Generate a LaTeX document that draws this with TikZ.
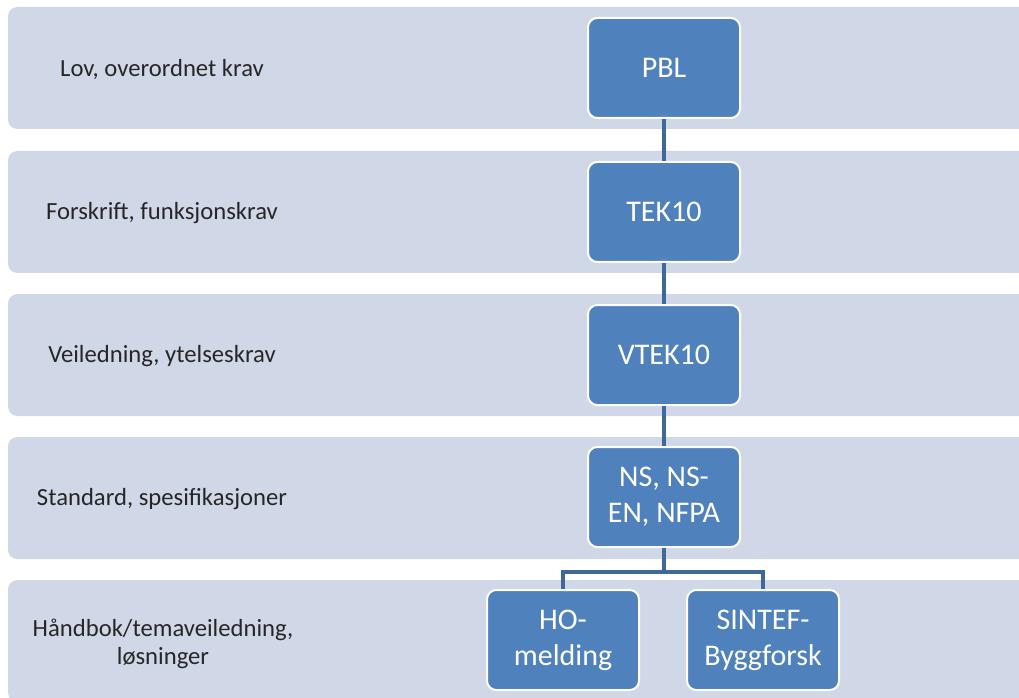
\documentclass[tikz,border=0pt]{standalone}
\usepackage{fontspec}
\setmainfont{Carlito}
\usepackage{xcolor}
\usepackage{tikz}

\definecolor{bandgray}{HTML}{D0D8E8}
\definecolor{boxblue}{HTML}{4F81BD}
\definecolor{linkblue}{HTML}{3D6899}

\begin{document}
\begin{tikzpicture}[x=0.75pt, y=-0.75pt,
    band/.style={fill=bandgray, rounded corners=7pt},
    level/.style={font=\fontsize{18.5}{20.5}\selectfont, text=black!85, align=center},
    doc/.style={draw=white, line width=1.5pt, fill=boxblue, rounded corners=7pt,
        minimum width=114pt, minimum height=75pt, inner sep=2pt,
        text=white, align=center, font=\fontsize{22.5}{27}\selectfont},
    link/.style={draw=linkblue, line width=2.8pt}]
            \useasboundingbox (0,0) rectangle (1019,698);
            \clip (0,0) rectangle (1019,698);

            \fill[band] (8, 7) rectangle (1040, 129);
            \fill[band] (8, 151) rectangle (1040, 273);
            \fill[band] (8, 294) rectangle (1040, 416);
            \fill[band] (8, 437) rectangle (1040, 559);
            \fill[band] (8, 580) rectangle (1040, 702);

            \node[level] (lov) at (162, 70) {Lov, overordnet krav};
            \node[level] (forskrift) at (162, 213) {Forskrift, funksjonskrav};
            \node[level] (veiledning) at (162, 356) {Veiledning, ytelseskrav};
            \node[level] (standard) at (162, 499) {Standard, spesifikasjoner};
            \node[level] (handbok) at (163, 644) {Håndbok/temaveiledning,\\løsninger};

            \node[doc] (pbl) at (664, 68) {PBL};
            \node[doc] (tek) at (664, 212) {TEK10};
            \node[doc] (vtek) at (664, 355) {VTEK10};
            \node[doc] (ns) at (664, 497) {NS, NS-\\EN, NFPA};
            \node[doc] (ho) at (563, 640) {HO-\\melding};
            \node[doc] (sintef) at (763, 640) {SINTEF-\\Byggforsk};
            \coordinate (fork) at (664, 572);

            \draw[link] (pbl) -- (tek);
            \draw[link] (tek) -- (vtek);
            \draw[link] (vtek) -- (ns);
            \draw[link] (ns) -- (fork);
            \draw[link] (fork) -| (ho);
            \draw[link] (fork) -| (sintef);
        \end{tikzpicture}
\end{document}
